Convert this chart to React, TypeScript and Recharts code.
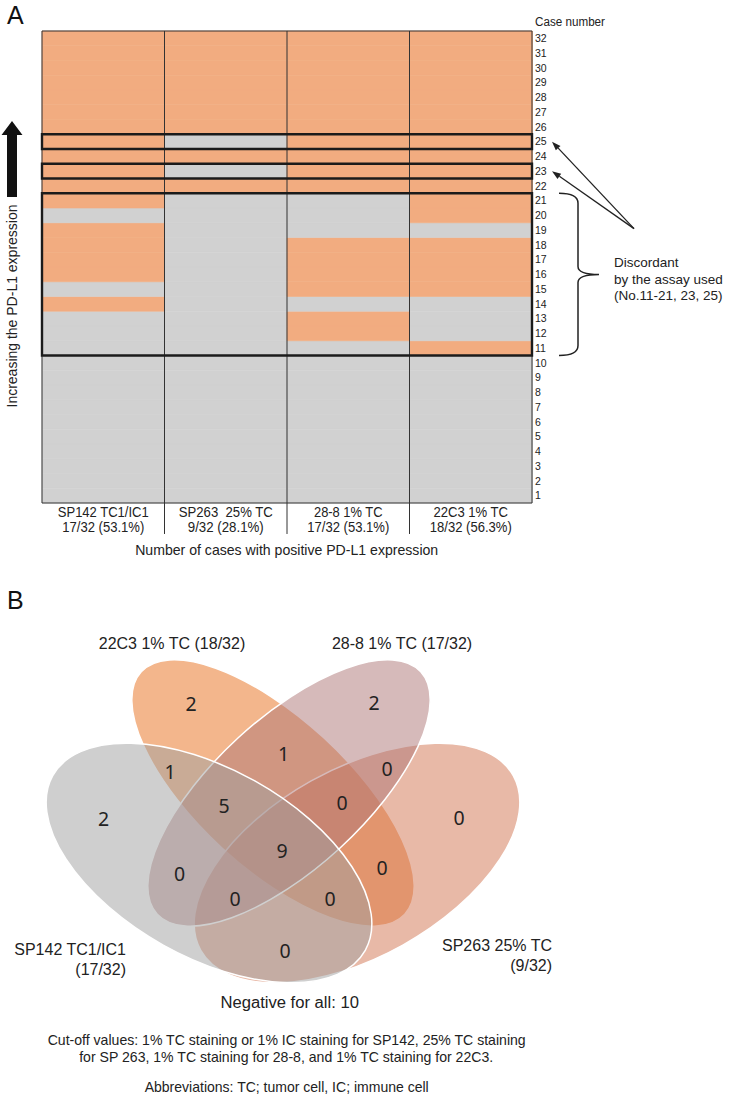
import React from 'react';
import {
  BarChart,
  Bar,
  Cell,
  XAxis,
  YAxis,
  ReferenceArea,
  ReferenceLine,
  ScatterChart,
  Scatter,
} from 'recharts';

// ---------- panel A: PD-L1 status per case and assay ----------
const assays = ['SP142 TC1/IC1', 'SP263  25% TC', '28-8 1% TC', '22C3 1% TC'];
const assayPositive = ['17/32 (53.1%)', '9/32 (28.1%)', '17/32 (53.1%)', '18/32 (56.3%)'];
const caseNumbers = [1, 2, 3, 4, 5, 6, 7, 8, 9, 10, 11, 12, 13, 14, 15, 16, 17, 18, 19, 20, 21, 22, 23, 24, 25, 26, 27, 28, 29, 30, 31, 32];

// 1 = positive, 0 = negative; first entry is case 1
const sp142 = [0, 0, 0, 0, 0, 0, 0, 0, 0, 0, 0, 0, 0, 1, 0, 1, 1, 1, 1, 0, 1, 1, 1, 1, 1, 1, 1, 1, 1, 1, 1, 1];
const sp263 = [0, 0, 0, 0, 0, 0, 0, 0, 0, 0, 0, 0, 0, 0, 0, 0, 0, 0, 0, 0, 0, 1, 0, 1, 0, 1, 1, 1, 1, 1, 1, 1];
const ab288 = [0, 0, 0, 0, 0, 0, 0, 0, 0, 0, 0, 1, 1, 0, 1, 1, 1, 1, 0, 0, 0, 1, 1, 1, 1, 1, 1, 1, 1, 1, 1, 1];
const ab22c3 = [0, 0, 0, 0, 0, 0, 0, 0, 0, 0, 1, 0, 0, 0, 1, 1, 1, 1, 0, 1, 1, 1, 1, 1, 1, 1, 1, 1, 1, 1, 1, 1];
const assayStatus = [sp142, sp263, ab288, ab22c3];

// discordant cases (first, last), boxed in the grid
const discordantRuns = [[11, 21], [23, 23], [25, 25]];
const arrowedCases = [25, 23];
const arrowFromRow = 18.6;

// ---------- panel B: Venn counts ----------
const setNames = ['SP142 TC1/IC1', 'SP263 25% TC', '28-8 1% TC', '22C3 1% TC'];
const setPositives = [17, 9, 17, 18];
const totalCases = 32;
// regions: SP142 only, 22C3 only, 28-8 only, SP263 only, SP142+22C3, 22C3+28-8, 28-8+SP263,
// SP142+22C3+28-8, 22C3+28-8+SP263, all, SP142+28-8, 22C3+SP263, SP142+28-8+SP263, SP142+22C3+SP263, SP142+SP263
const regionCounts = [2, 2, 2, 0, 1, 1, 0, 5, 0, 9, 0, 0, 0, 0, 0];
const negativeForAll = 10;

// ---------- look ----------
const ORANGE = '#F2AC80';
const GREY = '#D1D1D1';
const INK = '#222';
const NARROW = '"Liberation Sans", Arial, sans-serif';
const DIGITS = '"Noto Sans", "Open Sans", sans-serif';

// grid table: one stacked unit per case
const heatTable = assays.map((assay, i) => {
  const row: Record<string, string | number> = { assay, ratio: assayPositive[i] };
  caseNumbers.forEach((c) => {
    row['c' + c] = 1;
  });
  return row;
});

// measured widths of the two-line column captions (condensed face)
const captionWidths = [[91, 82], [94, 76], [68.5, 82], [74.6, 82]];
const LABEL_DEPTH = -2.1; // divider lines run down between the captions (grid units)

// venn layout in diagram units (ellipse centre, semi axes, tilt) and number anchors
const ellipseLayout = [
  { x: 37.8, y: 46.6, a: 35.8, b: 18.8, angle: 29.2, color: '#9F9F9F' },
  { x: 67.4, y: 46.6, a: 35.8, b: 18.8, angle: -29.2, color: '#D1734F' },
  { x: 53.8, y: 32.6, a: 35.8, b: 15.0, angle: -42.6, color: '#AD7575' },
  { x: 50.6, y: 32.6, a: 35.8, b: 15.0, angle: 42.6, color: '#E76D19' },
];
const paintOrder = [3, 1, 2, 0];
const regionAnchor = [
  [16.7, 37.6], [34.2, 14.6], [70.8, 14.4], [87.8, 37.4], [30.0, 28.2], [52.7, 24.6], [73.4, 27.6],
  [40.8, 35.0], [64.4, 34.4], [52.4, 44.0], [31.9, 48.6], [72.4, 47.4], [43.0, 53.6], [62.0, 53.6], [53.0, 64.0],
];
const setLabelAnchor = [
  { x: 21.2, y: 63.8, anchor: 'end', wrap: true },
  { x: 106.4, y: 63.0, anchor: 'end', wrap: true },
  { x: 76.4, y: 2.6, anchor: 'middle', wrap: false },
  { x: 30.4, y: 2.6, anchor: 'middle', wrap: false },
];

const B_W = 731;
const B_H = 504;
const B_MARGIN = { top: 40, right: 171, bottom: 84, left: 20 };
const X_SPAN = 108;
const Y_SPAN = 76;
const PX = (B_W - B_MARGIN.left - B_MARGIN.right) / X_SPAN;

function AssayTick(props: any) {
  const { x, y, payload, index } = props;
  const w = captionWidths[index] || [undefined, undefined];
  return (
    <g>
      <text x={x} y={y + 14} textAnchor="middle" fontSize={14.5} fill={INK} textLength={w[0]} lengthAdjust="spacingAndGlyphs" style={{ whiteSpace: 'pre' }}>
        {payload.value}
      </text>
      <text x={x} y={y + 29} textAnchor="middle" fontSize={14.5} fill={INK} textLength={w[1]} lengthAdjust="spacingAndGlyphs">
        {assayPositive[index]}
      </text>
    </g>
  );
}

// arrow from the note to a row label; x1/x2 sit on the right edge of the grid
function ArrowShape(props: any) {
  const { x1, y1, x2, y2 } = props;
  const sx = x1 + 102;
  const tx = x2 + 20;
  const ang = Math.atan2(y2 - y1, tx - sx);
  const L = 9;
  const W = 3.2;
  const bx = tx - L * Math.cos(ang);
  const by = y2 - L * Math.sin(ang);
  const px = -Math.sin(ang) * W;
  const py = Math.cos(ang) * W;
  return (
    <g>
      <line x1={sx} y1={y1} x2={bx} y2={by} stroke={INK} strokeWidth={1.3} />
      <polygon points={`${tx},${y2} ${bx + px},${by + py} ${bx - px},${by - py}`} fill={INK} />
    </g>
  );
}

function BraceShape(props: any) {
  const { x1, y1, y2 } = props;
  const hx = x1 + 27;
  const top = Math.min(y1, y2);
  const bot = Math.max(y1, y2);
  const mid = (top + bot) / 2;
  const sx = hx + 19;
  const tip = hx + 40;
  const d = `M${hx},${top} Q${sx},${top} ${sx},${top + 10} L${sx},${mid - 8} Q${sx},${mid} ${tip},${mid} Q${sx},${mid} ${sx},${mid + 8} L${sx},${bot - 10} Q${sx},${bot} ${hx},${bot}`;
  const runs = discordantRuns.map(([a, b]) => (a === b ? `${a}` : `${a}-${b}`)).join(', ');
  const tx = tip + 15;
  return (
    <g>
      <path d={d} fill="none" stroke={INK} strokeWidth={1.5} />
      <text x={tx} y={mid - 7} fontSize={13.5} fill={INK}>Discordant</text>
      <text x={tx} y={mid + 10} fontSize={13.5} fill={INK}>by the assay used</text>
      <text x={tx} y={mid + 26} fontSize={13.5} fill={INK}>{`(No.${runs})`}</text>
    </g>
  );
}

function EllipseShape(props: any) {
  const { cx, cy, payload } = props;
  return (
    <ellipse
      cx={cx}
      cy={cy}
      rx={payload.a * PX}
      ry={payload.b * PX}
      transform={`rotate(${payload.angle} ${cx} ${cy})`}
      fill={payload.color}
      fillOpacity={0.5}
      stroke="#fff"
      strokeWidth={1.5}
    />
  );
}

function CountShape(props: any) {
  const { cx, cy, payload } = props;
  return (
    <text x={cx} y={cy} textAnchor="middle" dominantBaseline="central" fontSize={19.5} fontFamily={DIGITS} fill={INK}>
      {payload.n}
    </text>
  );
}

function SetLabelShape(props: any) {
  const { cx, cy, payload } = props;
  const count = `(${payload.pos}/${totalCases})`;
  if (!payload.wrap) {
    return (
      <text x={cx} y={cy} textAnchor={payload.anchor} dominantBaseline="central" fontSize={16} fill={INK}>
        {`${payload.name} ${count}`}
      </text>
    );
  }
  return (
    <text x={cx} y={cy} textAnchor={payload.anchor} dominantBaseline="central" fontSize={16} fill={INK}>
      <tspan x={cx} dy={0}>{payload.name}</tspan>
      <tspan x={cx} dy={19.5}>{count}</tspan>
    </text>
  );
}

export default function App() {
  const lastAssay = assays[assays.length - 1];
  const countData = regionCounts.map((n, i) => ({ x: regionAnchor[i][0], y: regionAnchor[i][1], n }));
  const labelData = setNames.map((name, i) => ({ ...setLabelAnchor[i], name, pos: setPositives[i] }));

  return (
    <div style={{ position: 'absolute', left: 0, top: 0, width: 731, height: 1094, background: '#fff', fontFamily: NARROW }}>
      <div style={{ position: 'absolute', left: 0, top: 0 }}>
        <BarChart
          width={731}
          height={570}
          data={heatTable}
          margin={{ top: 31, right: 159, bottom: 7, left: 42 }}
          barCategoryGap={0}
          barGap={0}
        >
          <XAxis
            dataKey="assay"
            tick={<AssayTick />}
            tickLine={false}
            axisLine={false}
            tickSize={0}
            tickMargin={0}
            interval={0}
            height={60}
          />
          <YAxis
            orientation="right"
            type="number"
            domain={[0, 32]}
            ticks={caseNumbers.map((c) => c - 0.5)}
            tickFormatter={(v: number) => String(v + 0.5)}
            interval={0}
            tickLine={false}
            axisLine={false}
            tickSize={0}
            tickMargin={3}
            width={40}
            tick={{ fontSize: 10.5, fill: INK }}
          />
          {caseNumbers.map((c, k) => (
            <Bar key={c} dataKey={'c' + c} stackId="grid" isAnimationActive={false}>
              {assays.map((a, i) => {
                const f = assayStatus[i][k] ? ORANGE : GREY;
                return <Cell key={a} fill={f} stroke={f} strokeWidth={0.6} />;
              })}
            </Bar>
          ))}
          {assays.slice(1).map((a) => (
            <ReferenceLine
              key={a}
              segment={[{ x: a, y: LABEL_DEPTH }, { x: a, y: 32 }]}
              position="start"
              ifOverflow="visible"
              stroke="#333"
              strokeWidth={1}
            />
          ))}
          <ReferenceArea y1={0} y2={32} fill="none" stroke="#333" strokeWidth={1} ifOverflow="visible" zIndex={600} />
          {discordantRuns.map(([from, to]) => (
            <ReferenceArea
              key={from}
              y1={from - 1}
              y2={to}
              fill="none"
              fillOpacity={0}
              stroke="#1b1b1b"
              strokeWidth={2.4}
              ifOverflow="visible"
              zIndex={610}
            />
          ))}
          {arrowedCases.map((c) => (
            <ReferenceLine
              key={c}
              segment={[{ x: lastAssay, y: arrowFromRow }, { x: lastAssay, y: c - 0.5 }]}
              position="end"
              ifOverflow="visible"
              shape={ArrowShape}
            />
          ))}
          <ReferenceLine
            segment={[{ x: lastAssay, y: discordantRuns[0][1] }, { x: lastAssay, y: discordantRuns[0][0] - 1 }]}
            position="end"
            ifOverflow="visible"
            shape={BraceShape}
          />
        </BarChart>
      </div>

      <div style={{ position: 'absolute', left: 0, top: 590 }}>
        <ScatterChart width={B_W} height={B_H} margin={B_MARGIN}>
          <XAxis type="number" dataKey="x" domain={[0, X_SPAN]} hide />
          <YAxis type="number" dataKey="y" domain={[0, Y_SPAN]} reversed hide />
          {paintOrder.map((i) => (
            <Scatter key={i} data={[ellipseLayout[i]]} shape={EllipseShape} isAnimationActive={false} />
          ))}
          <Scatter data={countData} shape={CountShape} isAnimationActive={false} />
          <Scatter data={labelData} shape={SetLabelShape} isAnimationActive={false} />
        </ScatterChart>
      </div>

      <svg width={731} height={1094} style={{ position: 'absolute', left: 0, top: 0, pointerEvents: 'none' }}>
        <text x={7} y={15} dominantBaseline="central" fontSize={25} fill="#111">A</text>
        <text x={7} y={600} dominantBaseline="central" fontSize={25} fill="#111">B</text>
        <text x={535} y={22} dominantBaseline="central" fontSize={12} fill={INK} textLength={70} lengthAdjust="spacingAndGlyphs">Case number</text>
        <polygon points="12,121 1.5,135 7,135 7,197 17,197 17,135 22.5,135" fill="#111" />
        <text transform="translate(16.8, 306) rotate(-90)" textAnchor="middle" fontSize={13.8} fill={INK} textLength={203} lengthAdjust="spacingAndGlyphs">
          Increasing the PD-L1 expression
        </text>
        <text x={286.7} y={555} textAnchor="middle" fontSize={14.5} fill={INK} textLength={303} lengthAdjust="spacingAndGlyphs">
          Number of cases with positive PD-L1 expression
        </text>
        <text x={289.7} y={1002} textAnchor="middle" dominantBaseline="central" fontSize={16} fill={INK} textLength={138.5} lengthAdjust="spacingAndGlyphs">
          {`Negative for all: ${negativeForAll}`}
        </text>
        <text x={286.7} y={1039} textAnchor="middle" dominantBaseline="central" fontSize={15} fill={INK} textLength={478} lengthAdjust="spacingAndGlyphs">
          Cut-off values: 1% TC staining or 1% IC staining for SP142, 25% TC staining
        </text>
        <text x={286.2} y={1056} textAnchor="middle" dominantBaseline="central" fontSize={15} fill={INK} textLength={414} lengthAdjust="spacingAndGlyphs">
          for SP 263, 1% TC staining for 28-8, and 1% TC staining for 22C3.
        </text>
        <text x={286.7} y={1086} textAnchor="middle" dominantBaseline="central" fontSize={15} fill={INK} textLength={284} lengthAdjust="spacingAndGlyphs">
          Abbreviations: TC; tumor cell, IC; immune cell
        </text>
      </svg>
    </div>
  );
}
